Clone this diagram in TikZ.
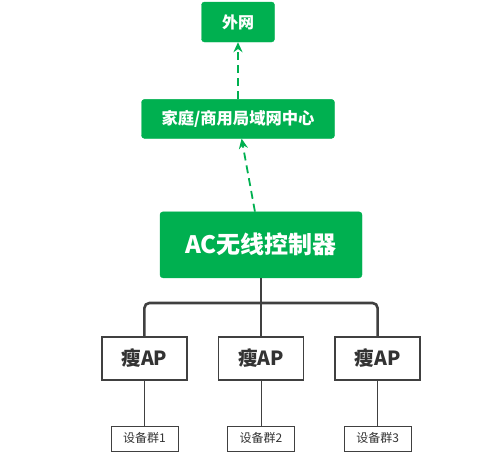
\documentclass[tikz,border=0pt]{standalone}
\usepackage{fontspec}
\setmainfont{Noto Sans CJK SC}
\usepackage{tikz}
\usetikzlibrary{positioning,arrows.meta,calc}
\definecolor{acgreen}{RGB}{0,176,80}
\definecolor{darkline}{RGB}{64,64,64}
\definecolor{textgray}{RGB}{51,51,51}

\begin{document}
\begin{tikzpicture}[
  x=1pt, y=1pt,
  gbox/.style={
    draw=acgreen, fill=acgreen, rounded corners=3pt,
    text=white, font=\bfseries, inner sep=2pt
  },
  apbox/.style={
    draw=darkline, line width=1.6pt, fill=white,
    minimum width=85pt, minimum height=43pt,
    font=\fontsize{19.5}{22}\selectfont\bfseries, text=textgray
  },
  devbox/.style={
    draw=darkline, line width=0.6pt, fill=white,
    minimum width=67pt, minimum height=25pt,
    font=\fontsize{12}{14}\selectfont, text=textgray
  },
  arr/.style={-{Stealth[length=10pt,width=9pt]}, line width=1.8pt, acgreen,
    dash pattern=on 8pt off 5pt},
  bus/.style={line width=2.6pt, darkline, rounded corners=5pt},
  leg/.style={line width=0.6pt, darkline},
  node distance=58pt and 30pt
]
  \useasboundingbox (0,0) rectangle (479,-453);

  % Top: uplink chain
  \node[gbox, minimum width=73pt, minimum height=40pt,
        font=\fontsize{16}{18}\selectfont\bfseries] (wan) at (238,-22) {外网};
  \node[gbox, minimum width=193pt, minimum height=39pt,
        font=\fontsize{16.3}{18}\selectfont\bfseries, below=57pt of wan] (lan)
        {家庭/商用局域网中心};
  \node[gbox, minimum width=202pt, minimum height=66pt,
        font=\fontsize{24}{28}\selectfont\bfseries,
        below=73pt of lan, xshift=23pt] (ac) {AC无线控制器};

  % Thin APs
  \node[apbox, below=58pt of ac]  (ap2) {瘦AP};
  \node[apbox, left=of ap2]       (ap1) {瘦AP};
  \node[apbox, right=of ap2]      (ap3) {瘦AP};

  % Device groups
  \node[devbox, below=45pt of ap1] (dev1) {设备群1};
  \node[devbox, below=45pt of ap2] (dev2) {设备群2};
  \node[devbox, below=45pt of ap3] (dev3) {设备群3};

  % Dashed uplinks
  \draw[arr] (ac)  -- (lan);
  \draw[arr] (lan) -- (wan);

  % Bus from controller to APs
  \coordinate (bus) at ($(ac.south)+(0,-25pt)$);
  \draw[bus] (ap1.north) |- (bus) -| (ap3.north);
  \draw[bus] (ac.south) -- (ap2.north);

  % AP to device groups
  \draw[leg] (ap1) -- (dev1);
  \draw[leg] (ap2) -- (dev2);
  \draw[leg] (ap3) -- (dev3);

\end{tikzpicture}
\end{document}
